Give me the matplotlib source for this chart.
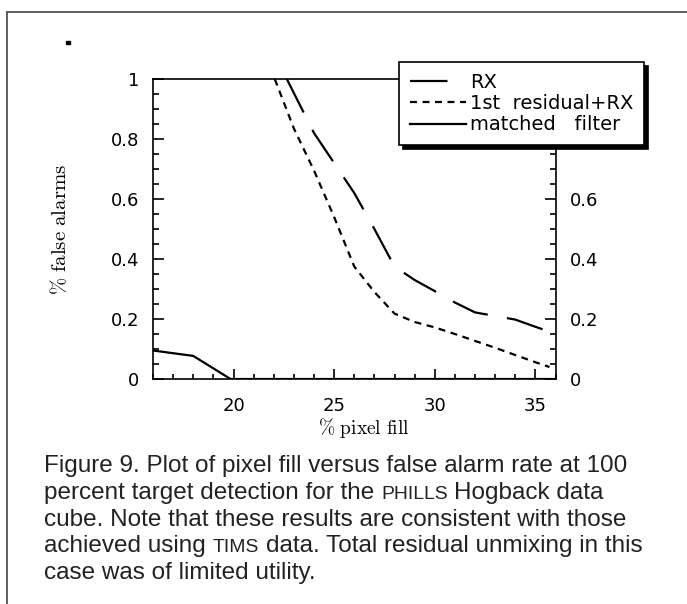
import matplotlib
matplotlib.use('Agg')
import matplotlib.pyplot as plt
import matplotlib.ticker as plticker
from matplotlib.lines import Line2D
from matplotlib.patches import Rectangle

plt.rcParams['mathtext.fontset'] = 'cm'
plt.rcParams['lines.scale_dashes'] = False

# data
pixel_fill_rx = [22.65, 23, 24, 25, 26, 27, 28, 29, 30, 31, 32, 33, 34, 35, 35.7]
false_alarm_rx = [1.0, 0.953, 0.82, 0.72, 0.62, 0.50, 0.375, 0.33, 0.293, 0.255, 0.222, 0.21, 0.198, 0.174, 0.158]

pixel_fill_res = [22.05, 23, 24, 25, 26, 27, 28, 29, 30, 31, 32, 33, 34, 35, 35.7]
false_alarm_res = [1.0, 0.835, 0.695, 0.54, 0.375, 0.29, 0.218, 0.19, 0.172, 0.15, 0.127, 0.104, 0.08, 0.056, 0.04]

pixel_fill_mf = [16, 18, 19.85, 36]
false_alarm_mf = [0.095, 0.077, 0.0, 0.0]

legend_labels = ['RX', '1st  residual+RX', 'matched   filter']
x_ticks = [20, 25, 30, 35]
y_ticks = [0, 0.2, 0.4, 0.6, 0.8, 1]

caption_lines = [
    [('Figure 9. Plot of pixel fill versus false alarm rate at 100', False)],
    [('percent target detection for the', False), ('PHILLS', True), ('Hogback data', False)],
    [('cube. Note that these results are consistent with those', False)],
    [('achieved using', False), ('TIMS', True), ('data. Total residual unmixing in this', False)],
    [('case was of limited utility.', False)],
]

W, H = 687, 604
fig = plt.figure(figsize=(W / 100, H / 100), dpi=100)
ax = fig.add_axes([153 / W, 1 - 379 / H, 402.5 / W, 300 / H])

sans = ['DejaVu Sans']
ax.plot(pixel_fill_rx, false_alarm_rx, color='black', lw=1.6, dashes=(27, 14),
        label=legend_labels[0], solid_capstyle='butt', dash_capstyle='butt')
ax.plot(pixel_fill_res, false_alarm_res, color='black', lw=1.6, dashes=(5, 4),
        label=legend_labels[1], dash_capstyle='butt')
ax.plot(pixel_fill_mf, false_alarm_mf, color='black', lw=1.6,
        label=legend_labels[2])

ax.set_xlim(16, 36)
ax.set_ylim(0, 1)
ax.set_xticks(x_ticks)
ax.set_xticklabels([str(v) for v in x_ticks])
ax.set_yticks(y_ticks)
ax.set_yticklabels(['%g' % v for v in y_ticks])
ax.xaxis.set_minor_locator(plticker.MultipleLocator(1))
ax.yaxis.set_minor_locator(plticker.MultipleLocator(0.05))
ax.tick_params(axis='both', which='both', direction='in', width=1.2, color='black')
ax.tick_params(axis='x', which='major', length=7, pad=13, labelsize=13)
ax.tick_params(axis='x', which='minor', length=3.5)
ax.tick_params(axis='y', which='major', length=8, labelsize=13, pad=10,
               right=True, labelright=True)
ax.tick_params(axis='y', which='minor', length=4, right=True)
for lab in ax.get_xticklabels() + ax.get_yticklabels():
    lab.set_family(sans)
# the legend box hides the upper right-hand labels
for val, tick in zip(y_ticks, ax.yaxis.get_major_ticks()):
    if val >= 0.8:
        tick.label2.set_visible(False)
for sp in ax.spines.values():
    sp.set_linewidth(1.2)

ax.set_xlabel(r'$\%\ \mathrm{pixel\ fill}$', fontsize=14)
ax.xaxis.set_label_coords(0.524, -0.124)
ax.set_ylabel(r'$\%\ \mathrm{false\ alarms}$', fontsize=15)
ax.yaxis.set_label_coords(-0.205, 0.5)

leg = ax.legend(loc='upper left', bbox_to_anchor=(399 / W, 1 - 62 / H),
                bbox_transform=fig.transFigure, borderaxespad=0,
                prop={'family': sans, 'size': 14}, handlelength=2.9,
                handletextpad=0.2, labelspacing=0.12, borderpad=0.55,
                fancybox=False, framealpha=1, edgecolor='black',
                shadow={'color': 'black', 'alpha': 1, 'ox': 3, 'oy': -3})
leg.get_frame().set_linewidth(1.2)
leg.set_zorder(10)

# frame of the figure panel and the stray dot
fig.add_artist(Line2D([7 / W, 1], [1 - 12 / H] * 2, transform=fig.transFigure,
                      color='#555555', lw=1.3))
fig.add_artist(Line2D([7 / W, 7 / W], [0, 1 - 12 / H], transform=fig.transFigure,
                      color='#555555', lw=1.3))
fig.add_artist(Rectangle((66 / W, 1 - 44 / H), 3.5 / W, 3.5 / H,
                         transform=fig.transFigure, color='black'))

# caption, sized so the first line spans the same width as the original
renderer = fig.canvas.get_renderer()
cap_font = ['Liberation Sans']
probe = fig.text(0, 0, caption_lines[0][0][0], fontsize=10, family=cap_font)
cap_size = 10 * 585 / probe.get_window_extent(renderer).width
probe.set_text('a a')
probe.set_fontsize(cap_size)
w1 = probe.get_window_extent(renderer).width
probe.set_text('aa')
space_w = w1 - probe.get_window_extent(renderer).width
probe.remove()

baseline = 472
for line in caption_lines:
    x = 44
    for txt, small in line:
        t = fig.text(x / W, 1 - baseline / H, txt, family=cap_font,
                     fontsize=cap_size * (0.8 if small else 1), va='baseline',
                     color='#222222')
        x += t.get_window_extent(renderer).width + space_w
    baseline += 26.8

fig.savefig('out.png', dpi=100)
